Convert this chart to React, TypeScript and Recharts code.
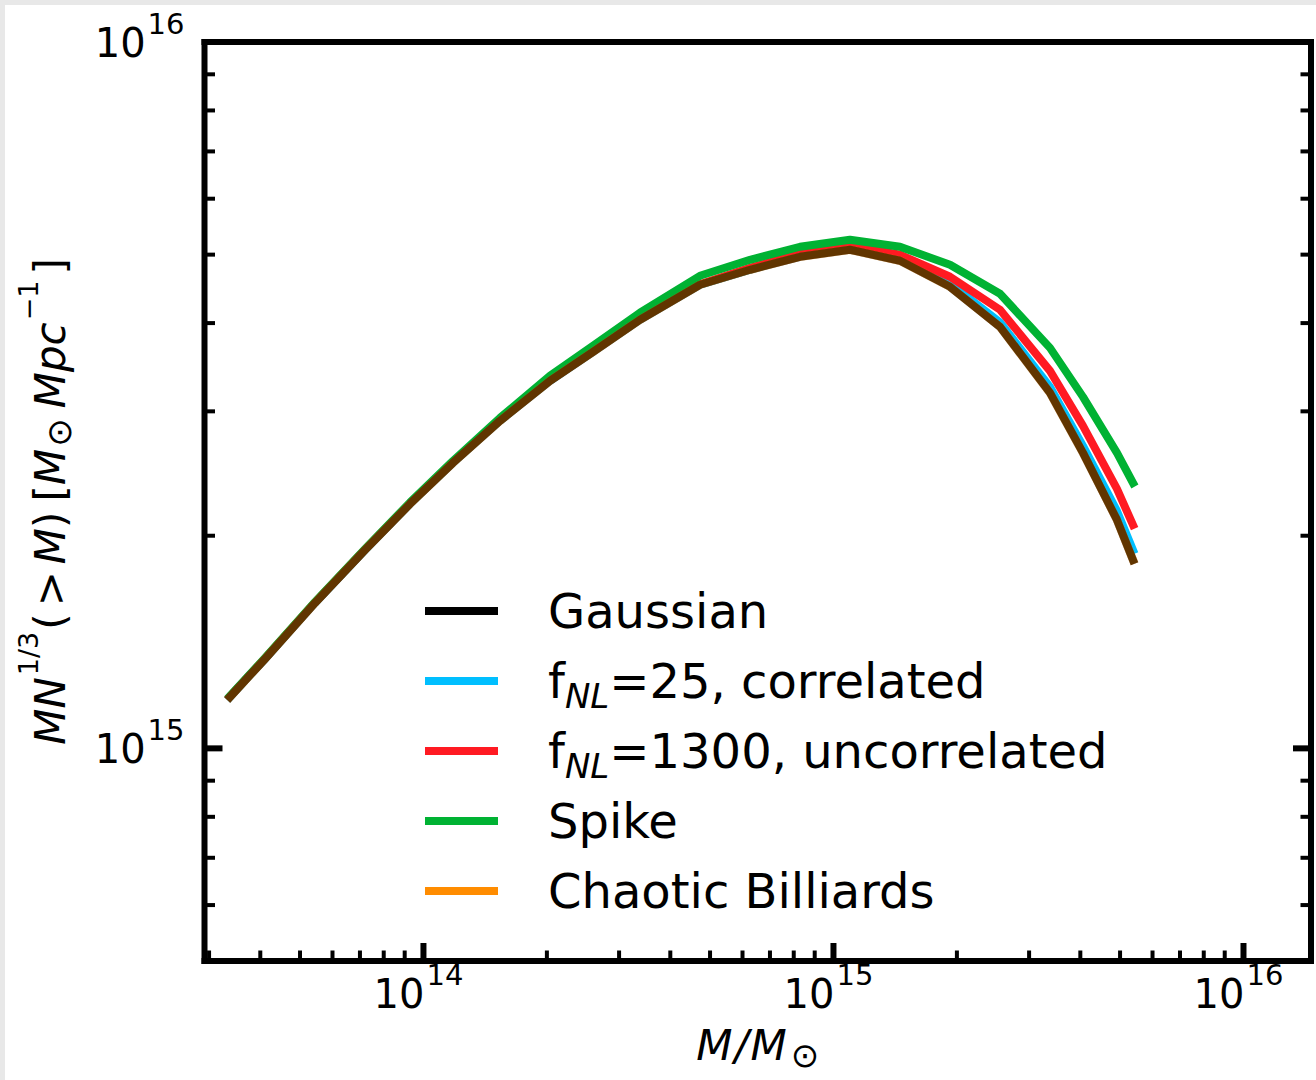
import React from 'react';
import { LineChart, Line, XAxis, YAxis, Legend } from 'recharts';

// ---------- data ----------
const masses = [3.373e13, 4.106e13, 5.438e13, 7.201e13, 9.27e13, 1.1802e14, 1.5369e14, 2.0346e14, 2.591e14, 3.3736e14, 4.725e14, 6.2572e14, 8.2857e14, 1.0971e15, 1.4529e15, 1.9241e15, 2.5478e15, 3.3736e15, 4.0598e15, 4.9139e15, 5.3767e15];
const gaussian = [1.1821e15, 1.3384e15, 1.6065e15, 1.9094e15, 2.2182e15, 2.5363e15, 2.9085e15, 3.3136e15, 3.642e15, 4.0434e15, 4.532e15, 4.7594e15, 4.9656e15, 5.0803e15, 4.901e15, 4.5025e15, 3.952e15, 3.1859e15, 2.6201e15, 2.1059e15, 1.8481e15];
const fnl25 = [1.1821e15, 1.3384e15, 1.6065e15, 1.9094e15, 2.2182e15, 2.5363e15, 2.9085e15, 3.3136e15, 3.642e15, 4.0434e15, 4.532e15, 4.7594e15, 4.9818e15, 5.1135e15, 4.9492e15, 4.5542e15, 4.0104e15, 3.2489e15, 2.6806e15, 2.1686e15, 1.9094e15];
const fnl1300 = [1.184e15, 1.3406e15, 1.6091e15, 1.9125e15, 2.2218e15, 2.5404e15, 2.9132e15, 3.319e15, 3.6479e15, 4.05e15, 4.5394e15, 4.7905e15, 5.0144e15, 5.147e15, 4.9978e15, 4.6518e15, 4.1773e15, 3.4228e15, 2.8611e15, 2.3298e15, 2.0713e15];
const spike = [1.186e15, 1.3428e15, 1.6118e15, 1.9156e15, 2.2291e15, 2.5529e15, 2.9371e15, 3.3681e15, 3.714e15, 4.1368e15, 4.667e15, 4.9172e15, 5.1302e15, 5.2487e15, 5.13e15, 4.8373e15, 4.4007e15, 3.6894e15, 3.1447e15, 2.6197e15, 2.3753e15];
const chaotic = [1.1821e15, 1.3384e15, 1.6065e15, 1.9094e15, 2.2182e15, 2.5363e15, 2.9085e15, 3.3136e15, 3.642e15, 4.0434e15, 4.532e15, 4.7594e15, 4.9656e15, 5.0803e15, 4.901e15, 4.5025e15, 3.952e15, 3.1859e15, 2.6201e15, 2.1059e15, 1.8481e15];

const xDomain = [2.924e13, 1.461e16];
const yDomain = [5e14, 1e16];
const xTicks = [3e13, 4e13, 5e13, 6e13, 7e13, 8e13, 9e13, 1e14, 2e14, 3e14, 4e14, 5e14, 6e14, 7e14, 8e14, 9e14, 1e15, 2e15, 3e15, 4e15, 5e15, 6e15, 7e15, 8e15, 9e15, 1e16];
const yTicks = [5e14, 6e14, 7e14, 8e14, 9e14, 1e15, 2e15, 3e15, 4e15, 5e15, 6e15, 7e15, 8e15, 9e15, 1e16];

const legendItems = [
  { key: 'gaussian', base: 'Gaussian', sub: '', rest: '', color: '#000000' },
  { key: 'fnl25', base: 'f', sub: 'NL', rest: '=25, correlated', color: '#00bfff' },
  { key: 'fnl1300', base: 'f', sub: 'NL', rest: '=1300, uncorrelated', color: '#ff1a22' },
  { key: 'spike', base: 'Spike', sub: '', rest: '', color: '#00b233' },
  { key: 'chaotic', base: 'Chaotic Billiards', sub: '', rest: '', color: '#ff8c00' },
];

const data = masses.map((m, i) => ({
  m,
  gaussian: gaussian[i],
  fnl25: fnl25[i],
  fnl1300: fnl1300[i],
  spike: spike[i],
  chaotic: chaotic[i],
}));

const FONT = 'DejaVu Sans';

const isMajor = (v: number) => Math.abs(Math.log10(v) - Math.round(Math.log10(v))) < 1e-6;
const expOf = (v: number) => Math.round(Math.log10(v));

const MAJOR_LEN = 18;
const MINOR_LEN = 10.5;

const TickLabel = ({ x, y, anchor, v }: any) => (
  <text x={x} y={y} textAnchor={anchor} fontFamily={FONT} fontSize={40} fill="#000">
    10<tspan dx={2} dy={-23} fontSize={29}>{expOf(v)}</tspan>
  </text>
);

const BottomTick = (props: any) => {
  const { x, y, payload } = props;
  const v = payload.value;
  const major = isMajor(v);
  return (
    <g>
      <line x1={x} x2={x} y1={y} y2={y - (major ? MAJOR_LEN : MINOR_LEN)} stroke="#000" strokeWidth={major ? 6 : 4} />
      {major && <TickLabel x={x - 5} y={y + 47} anchor="middle" v={v} />}
    </g>
  );
};

const TopTick = (props: any) => {
  const { x, y, payload } = props;
  const major = isMajor(payload.value);
  return <line x1={x} x2={x} y1={y} y2={y + (major ? MAJOR_LEN : MINOR_LEN)} stroke="#000" strokeWidth={major ? 6 : 4} />;
};

const LeftTick = (props: any) => {
  const { x, y, payload } = props;
  const v = payload.value;
  const major = isMajor(v);
  return (
    <g>
      <line x1={x} x2={x + (major ? MAJOR_LEN : MINOR_LEN)} y1={y} y2={y} stroke="#000" strokeWidth={major ? 6 : 4} />
      {major && <TickLabel x={x - 20} y={y + 15} anchor="end" v={v} />}
    </g>
  );
};

const RightTick = (props: any) => {
  const { x, y, payload } = props;
  const major = isMajor(payload.value);
  return <line x1={x} x2={x - (major ? MAJOR_LEN : MINOR_LEN)} y1={y} y2={y} stroke="#000" strokeWidth={major ? 6 : 4} />;
};

const XTitle = (props: any) => {
  const vb = props.viewBox || {};
  const cx = vb.x + vb.width / 2;
  const by = vb.y + 99;
  return (
    <text x={cx} y={by} textAnchor="middle" fontFamily={FONT} fontSize={42} fill="#000">
      <tspan fontStyle="italic">M</tspan>
      <tspan fontStyle="italic" dx={2}>/</tspan>
      <tspan fontStyle="italic" dx={2}>M</tspan>
      <tspan fontSize={34} dx={4} dy={7}>⊙</tspan>
    </text>
  );
};

const YTitle = (props: any) => {
  const vb = props.viewBox || {};
  const cx = vb.x + 65;
  const cy = vb.y + vb.height / 2;
  return (
    <text x={cx} y={cy} transform={`rotate(-90, ${cx}, ${cy})`} textAnchor="middle" fontFamily={FONT} fontSize={42} fill="#000">
      <tspan fontStyle="italic">MN</tspan>
      <tspan fontSize={27} dx={2} dy={-27}>1/3</tspan>
      <tspan dx={2} dy={27}>(</tspan>
      <tspan dx={7}>&gt;</tspan>
      <tspan fontStyle="italic" dx={7}>M</tspan>
      <tspan>)</tspan>
      <tspan dx={10}>[</tspan>
      <tspan fontStyle="italic">M</tspan>
      <tspan fontSize={34} dx={2} dy={6}>⊙</tspan>
      <tspan dx={10} dy={-6} fontStyle="italic">Mpc</tspan>
      <tspan fontSize={27} dx={2} dy={-27}>−1</tspan>
      <tspan dx={6} dy={27}>]</tspan>
    </text>
  );
};

const LegendBox = () => (
  <svg width={760} height={370} style={{ display: 'block' }}>
    {legendItems.map((it, i) => {
      const cy = 51 + i * 70;
      return (
        <g key={it.key}>
          <line x1={25} x2={98} y1={cy} y2={cy} stroke={it.color} strokeWidth={8} />
          <text x={148} y={cy + 17} fontFamily={FONT} fontSize={48} fill="#000">
            {it.base}
            {it.sub && (
              <tspan fontStyle="italic" fontSize={34} dy={10}>
                {it.sub}
              </tspan>
            )}
            {it.sub && <tspan dy={-10}>{it.rest}</tspan>}
          </text>
        </g>
      );
    })}
  </svg>
);

const axisLine = { stroke: '#000', strokeWidth: 6, strokeLinecap: 'square' as const };

export default function App() {
  return (
    <div style={{ position: 'absolute', left: 0, top: 0, width: 1316, height: 1080, background: '#e8e8e8' }}>
      <div style={{ position: 'absolute', left: 5, top: 5, width: 1311, height: 1075, background: '#ffffff' }} />
      <div style={{ position: 'absolute', left: 0, top: 0 }}>
        <LineChart width={1316} height={1080} data={data} margin={{ top: 0, right: 0, bottom: 0, left: 0 }}>
          <XAxis
            dataKey="m"
            type="number"
            scale="log"
            domain={xDomain}
            allowDataOverflow
            ticks={xTicks}
            interval={0}
            height={119}
            tickSize={0}
            tickMargin={0}
            tickLine={false}
            axisLine={axisLine}
            tick={<BottomTick />}
            label={<XTitle />}
          />
          <XAxis
            xAxisId="top"
            orientation="top"
            type="number"
            scale="log"
            domain={xDomain}
            allowDataOverflow
            ticks={xTicks}
            interval={0}
            height={42}
            tickSize={0}
            tickMargin={0}
            tickLine={false}
            axisLine={axisLine}
            tick={<TopTick />}
          />
          <YAxis
            type="number"
            scale="log"
            domain={yDomain}
            allowDataOverflow
            ticks={yTicks}
            interval={0}
            width={204.5}
            tickSize={0}
            tickMargin={0}
            tickLine={false}
            axisLine={axisLine}
            tick={<LeftTick />}
            label={<YTitle />}
          />
          <YAxis
            yAxisId="right"
            orientation="right"
            type="number"
            scale="log"
            domain={yDomain}
            allowDataOverflow
            ticks={yTicks}
            interval={0}
            width={5}
            tickSize={0}
            tickMargin={0}
            tickLine={false}
            axisLine={axisLine}
            tick={<RightTick />}
          />
          <Line dataKey="fnl25" name="fNL=25, correlated" type="linear" stroke="#00bfff" strokeWidth={8} strokeLinecap="square" strokeLinejoin="round" dot={false} isAnimationActive={false} />
          <Line dataKey="fnl1300" name="fNL=1300, uncorrelated" type="linear" stroke="#ff1a22" strokeWidth={8} strokeLinecap="square" strokeLinejoin="round" dot={false} isAnimationActive={false} />
          <Line dataKey="spike" name="Spike" type="linear" stroke="#00b233" strokeWidth={8} strokeLinecap="square" strokeLinejoin="round" dot={false} isAnimationActive={false} />
          <Line dataKey="gaussian" name="Gaussian" type="linear" stroke="#000000" strokeWidth={8} strokeLinecap="square" strokeLinejoin="round" dot={false} isAnimationActive={false} />
          <Line dataKey="chaotic" name="Chaotic Billiards" type="linear" stroke="#ff8c00" strokeOpacity={0.38} strokeWidth={8.5} strokeLinecap="square" strokeLinejoin="round" dot={false} isAnimationActive={false} />
          <Legend
            layout="vertical"
            align="center"
            verticalAlign="middle"
            content={<LegendBox />}
            wrapperStyle={{ left: 400, top: 560, width: 760, height: 370 }}
          />
        </LineChart>
      </div>
    </div>
  );
}
